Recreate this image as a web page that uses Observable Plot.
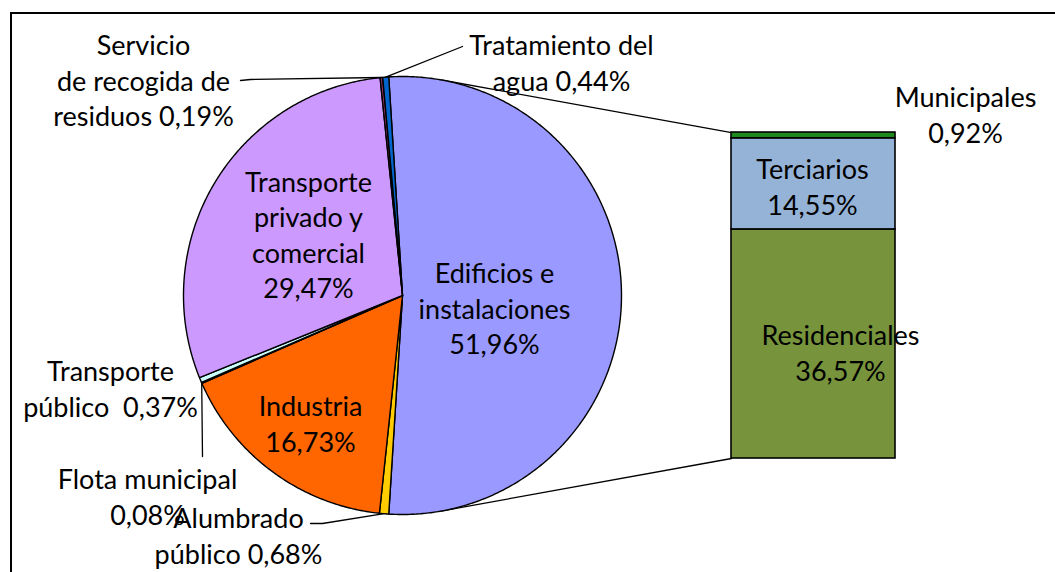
<!DOCTYPE html>
<html><head><meta charset="utf-8">
<script src="https://cdn.jsdelivr.net/npm/d3@7"></script>
<script src="https://cdn.jsdelivr.net/npm/@observablehq/plot@0.6"></script>
<style>
body{margin:0;background:#fff;overflow:hidden;}
#frame{position:absolute;left:10px;top:12px;width:1100px;height:620px;border-left:2px solid #000;border-top:2px solid #000;}
#chart{position:absolute;left:0;top:0;}
</style></head><body>
<div id="frame"></div><div id="chart"></div>
<script>
// ---- data ----
const pieCategories = ["Edificios e instalaciones", "Alumbrado público", "Industria", "Flota municipal", "Transporte público", "Transporte privado y comercial", "Servicio de recogida de residuos", "Tratamiento del agua"];
const pieValues = [51.96, 0.68, 16.73, 0.08, 0.37, 29.47, 0.19, 0.44];
const pieColors = ["#9999FF", "#FFCC00", "#FF6600", "#333399", "#CCFFFF", "#CC99FF", "#993366", "#0066CC"];
const pieLabels = ["Edificios e\ninstalaciones\n51,96%", "Alumbrado\npúblico 0,68%", "Industria\n16,73%", "Flota municipal\n0,08%", "Transporte\npúblico  0,37%", "Transporte\nprivado y\ncomercial\n29,47%", "Servicio\nde recogida de\nresiduos 0,19%", "Tratamiento del\nagua 0,44%"];
const barCategories = ["Residenciales", "Terciarios", "Municipales"];
const barValues = [36.57, 14.55, 0.92];
const barColors = ["#77933C", "#95B3D7", "#1E8A1E"];
const barLabels = ["Residenciales\n36,57%", "Terciarios\n14,55%", "Municipales\n0,92%"];

// ---- layout ----
const W = 1055, H = 572;
const CX = 402, CY = 295, R = 219;
const BAR = {x1: 731, x2: 895, bottom: 458, pxPerPct: 6.264};
// label centres (layout) and optional leader anchor
const pieLabelPos = [[494, 307], [238, 534], [310, 422], [147, 495], [110, 387], [308, 233], [143, 79], [561, 61]];
const pieLeaderFrom = [null, [[310, 523], [322, 523]], null, [[202, 456]], null, null, [[240, 80], [250, 79]], [[462, 46]]];
const barLabelPos = [[840, 351], [812, 185], [965, 113]];

// ---- geometry from data ----
const rad = d => d * Math.PI / 180;
const polar = (deg, r) => [CX + r * Math.sin(rad(deg)), CY - r * Math.cos(rad(deg))];
const total = d3.sum(pieValues);
const startDeg = 90 - (pieValues[0] / total * 360) / 2;
let cum = 0;
const slices = pieCategories.map((c, i) => {
  const a0 = startDeg + cum / total * 360;
  cum += pieValues[i];
  const a1 = startDeg + cum / total * 360;
  return {c, i, a0, a1, mid: (a0 + a1) / 2, color: pieColors[i]};
});
const slicePts = [];
for (const s of slices) {
  const n = Math.max(2, Math.ceil((s.a1 - s.a0) / 0.5));
  slicePts.push({c: s.c, color: s.color, x: CX, y: CY});
  for (let k = 0; k <= n; k++) {
    const [x, y] = polar(s.a0 + (s.a1 - s.a0) * k / n, R);
    slicePts.push({c: s.c, color: s.color, x, y});
  }
}
let bcum = 0;
const barSegs = barCategories.map((c, i) => {
  const v0 = bcum; bcum += barValues[i];
  return {c, color: barColors[i], v0, v1: bcum};
});
const yOf = v => BAR.bottom - v * BAR.pxPerPct;

// tangent connectors from bar corners to the circle
function tangent(px, py, upper) {
  const dx = px - CX, dy = CY - py;
  const d = Math.hypot(dx, dy);
  const base = Math.atan2(dy, dx);
  const off = Math.acos(R / d);
  const ang = upper ? base + off : base - off;
  return [CX + R * Math.cos(ang), CY - R * Math.sin(ang)];
}
const topCorner = [BAR.x1, yOf(bcum)], botCorner = [BAR.x1, yOf(0)];
const connectors = [];
[[topCorner, true], [botCorner, false]].forEach(([p, up], j) => {
  const t = tangent(p[0], p[1], up);
  connectors.push({g: j, x: t[0], y: t[1]}, {g: j, x: p[0], y: p[1]});
});

const leaders = [];
slices.forEach((s, i) => {
  if (!pieLeaderFrom[i]) return;
  const [ex, ey] = polar(s.mid, R);
  pieLeaderFrom[i].forEach(([x, y]) => leaders.push({g: i, x, y}));
  leaders.push({g: i, x: ex, y: ey});
});

const labels = [
  ...pieLabels.map((t, i) => ({t, x: pieLabelPos[i][0], y: pieLabelPos[i][1]})),
  ...barLabels.map((t, i) => ({t, x: barLabelPos[i][0], y: barLabelPos[i][1]}))
];

const chart = Plot.plot({
  width: W, height: H, margin: 0,
  x: {domain: [0, W], range: [0, W], axis: null},
  y: {domain: [0, H], range: [0, H], axis: null},
  color: {type: "identity"},
  style: {background: "transparent", fontFamily: "Lato, sans-serif"},
  marks: [
    Plot.line(connectors, {x: "x", y: "y", z: "g", stroke: "#000", strokeWidth: 1.3}),
    Plot.line(slicePts, {x: "x", y: "y", z: "c", fill: "color", stroke: "#000", strokeWidth: 1.4, strokeLinejoin: "round", curve: "linear-closed"}),
    Plot.rect(barSegs, {x1: () => BAR.x1, x2: () => BAR.x2, y1: d => yOf(d.v0), y2: d => yOf(d.v1), fill: "color", stroke: "#000", strokeWidth: 1.6}),
    Plot.line(leaders, {x: "x", y: "y", z: "g", stroke: "#000", strokeWidth: 1.3}),
    Plot.text(labels, {x: "x", y: "y", text: "t", fill: "#000", fontSize: 27, lineHeight: 1.31, textAnchor: "middle", lineAnchor: "middle"})
  ]
});
document.getElementById("chart").appendChild(chart);
</script>
</body></html>
